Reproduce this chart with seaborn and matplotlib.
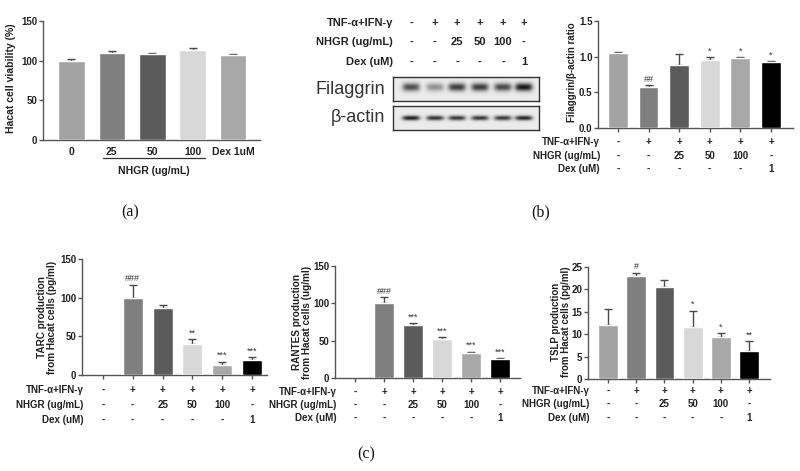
import numpy as np
import seaborn as sns
import matplotlib.pyplot as plt

W, H = 800, 471

# (a) cell viability
via_groups = ['0', '25', '50', '100', 'Dex 1uM']
via_values = [99, 110, 108, 114, 107]
via_err = [3, 2, 2, 2, 2]
via_colors = ['#a3a3a3', '#7f7f7f', '#5b5b5b', '#d8d8d8', '#a8a8a8']

# treatment table shared by (b) and (c)
groups = ['ctrl', 'TI', 'N25', 'N50', 'N100', 'Dex']
row_names = ['TNF-α+IFN-γ', 'NHGR (ug/mL)', 'Dex (uM)']
tnf_row = ['-', '+', '+', '+', '+', '+']
nhgr_row = ['-', '-', '25', '50', '100', '-']
dex_row = ['-', '-', '-', '-', '-', '1']
bar_colors = ['#a3a3a3', '#7f7f7f', '#5b5b5b', '#d8d8d8', '#a8a8a8', '#000000']

# (b) western blot band strength + ratio
fil_band = [0.70, 0.40, 0.78, 0.78, 0.72, 0.95]
actin_band = [0.92, 0.82, 0.80, 0.80, 0.80, 0.88]
fil_ratio = [1.05, 0.58, 0.89, 0.95, 0.98, 0.93]
fil_err = [0.01, 0.02, 0.15, 0.04, 0.01, 0.005]
fil_sig = ['', '##', '', '*', '*', '*']

# (c) cytokines
tarc = [0, 100, 86, 40, 13, 20]
tarc_err = [0, 17, 4, 6, 4, 3]
tarc_sig = ['', '###', '', '**', '***', '***']

rantes = [0, 100, 71, 52, 33, 25]
rantes_err = [0, 8, 2, 3, 2, 1.5]
rantes_sig = ['', '###', '***', '***', '***', '***']

tslp = [12.1, 23.0, 20.5, 11.5, 9.4, 6.2]
tslp_err = [3.6, 0.7, 1.5, 3.7, 0.8, 2.2]
tslp_sig = ['', '#', '', '*', '*', '**']

sns.set_style('ticks')
plt.rcParams['font.family'] = ['Liberation Sans', 'DejaVu Sans']
plt.rcParams['font.weight'] = 'bold'
TXT = '#222222'
AX = '#555555'

fig = plt.figure(figsize=(8, 4.71), dpi=100)


def add_ax(l, t, r, b):
    return fig.add_axes([l / W, 1 - b / H, (r - l) / W, (b - t) / H])


def ftext(x, y, s, **kw):
    kw.setdefault('color', TXT)
    fig.text(x / W, 1 - y / H, s, **kw)


def bars(ax, cats, vals, errs, colors, xlim, ymax, yticks, width=0.66, sig=None):
    sns.barplot(x=cats, y=vals, hue=cats, order=cats, hue_order=cats,
                palette=dict(zip(cats, colors)), legend=False, ax=ax,
                width=width, saturation=1, zorder=3)
    idx = [i for i, e in enumerate(errs) if e > 0]
    ax.errorbar(idx, [vals[i] for i in idx],
                yerr=[[0] * len(idx), [errs[i] for i in idx]],
                fmt='none', ecolor='#4a4a4a', elinewidth=1, capsize=3,
                capthick=1, zorder=2)
    if sig:
        for i, s in enumerate(sig):
            if s:
                ax.text(i, vals[i] + errs[i] + ymax * 0.015, s, ha='center',
                        va='bottom', fontsize=6.5, color='#333333',
                        fontweight='normal')
    ax.set_xlim(*xlim)
    ax.set_ylim(0, ymax)
    ax.set_yticks(yticks)
    ax.set_xlabel('')
    ax.set_ylabel('')
    sns.despine(ax=ax)
    for sp in ['left', 'bottom']:
        ax.spines[sp].set_color(AX)
        ax.spines[sp].set_linewidth(1)
    ax.tick_params(axis='both', colors=AX, labelcolor=TXT, labelsize=7,
                   length=3, width=1, pad=1)


def table(ax, ys, fs=7):
    rows = [tnf_row, nhgr_row, dex_row]
    for name, row, y in zip(row_names, rows, ys):
        ax.text(0.01, y, name, transform=ax.transAxes, ha='right',
                va='center', fontsize=fs, color=TXT)
        for i, v in enumerate(row):
            ax.text(i, y, v, transform=ax.get_xaxis_transform(), ha='center',
                    va='center', fontsize=fs, color=TXT)
    ax.set_xticklabels([])


# ---- (a)
ax_a = add_ax(43, 21, 260, 140)
bars(ax_a, via_groups, via_values, via_err, via_colors, (-0.705, 4.67), 150,
     [0, 50, 100, 150])
ax_a.tick_params(axis='x', length=0, labelsize=7.5, pad=5)
ax_a.plot([0.78, 3.3], [-0.151, -0.151], transform=ax_a.get_xaxis_transform(),
          color='#333333', lw=0.9, clip_on=False)
ax_a.text(2.04, -0.26, 'NHGR (ug/mL)', transform=ax_a.get_xaxis_transform(),
          ha='center', va='center', fontsize=7.5, color=TXT)
ftext(11, 78, 'Hacat cell viability (%)', rotation=90, ha='center',
      va='center', fontsize=7.5)

# ---- (b) blot
cols_px = [411, 435, 457, 480, 503, 524]
hdr_rows = [tnf_row, nhgr_row, dex_row]
for name, row, y in zip(row_names, hdr_rows, [23, 42, 62]):
    ftext(393, y, name, ha='right', va='center', fontsize=8)
    for xc, v in zip(cols_px, row):
        ftext(xc, y, v, ha='center', va='center', fontsize=8)


def blot(l, t, r, b, strength, yc, sy):
    ax = add_ax(l, t, r, b)
    xs = np.linspace(0, 1, 300)
    ys = np.linspace(0, 1, 60)[:, None]
    img = np.full((60, 300), 0.08)
    for xc_px, s in zip(cols_px, strength):
        xc = (xc_px - l) / (r - l)
        prof_x = np.exp(-((xs - xc) / 0.06) ** 4)
        prof_y = np.exp(-((ys - yc) / sy) ** 2)
        img += s * 0.88 * prof_x[None, :] * prof_y
    ax.imshow(np.clip(img, 0, 1), cmap='gray_r', vmin=0, vmax=1,
              aspect='auto', extent=(0, 1, 0, 1), origin='upper')
    ax.set_xticks([])
    ax.set_yticks([])
    for sp in ax.spines.values():
        sp.set_color('#333333')
        sp.set_linewidth(1)
    return ax


blot(393, 77, 539, 101, fil_band, 0.42, 0.17)
blot(393, 106, 539, 130, actin_band, 0.5, 0.1)
ftext(385, 89, 'Filaggrin', ha='right', va='center', fontsize=13,
      fontweight='normal', color='#333333')
ftext(385, 118, 'β-actin', ha='right', va='center', fontsize=13,
      fontweight='normal', color='#333333')

# ---- (b) ratio
ax_b = add_ax(598, 21, 793, 128)
bars(ax_b, groups, fil_ratio, fil_err, bar_colors, (-0.65, 5.72), 1.5,
     [0.0, 0.5, 1.0, 1.5], width=0.65, sig=fil_sig)
ax_b.yaxis.set_major_formatter(plt.FormatStrFormatter('%.1f'))
table(ax_b, [-0.131, -0.262, -0.383])
ftext(572, 72, 'Filaggrin/β-actin ratio', rotation=90, ha='center',
      va='center', fontsize=7)

# ---- (c)
ax_c1 = add_ax(82, 259, 267, 375)
bars(ax_c1, groups, tarc, tarc_err, bar_colors, (-0.70, 5.5), 150,
     [0, 50, 100, 150], width=0.67, sig=tarc_sig)
table(ax_c1, [-0.129, -0.259, -0.388])
ftext(47, 317, 'TARC production\nfrom Hacat cells (pg/ml)', rotation=90,
      ha='center', va='center', fontsize=7.2, linespacing=1.05)

ax_c2 = add_ax(335, 266, 520, 378)
bars(ax_c2, groups, rantes, rantes_err, bar_colors, (-0.69, 5.69), 150,
     [0, 50, 100, 150], width=0.67, sig=rantes_sig)
table(ax_c2, [-0.125, -0.241, -0.357])
ftext(302, 322, 'RANTES production\nfrom Hacat cells (ug/ml)', rotation=90,
      ha='center', va='center', fontsize=7.2, linespacing=1.05)

ax_c3 = add_ax(588, 267, 770, 379)
bars(ax_c3, groups, tslp, tslp_err, bar_colors, (-0.71, 5.74), 25,
     [0, 5, 10, 15, 20, 25], width=0.7, sig=tslp_sig)
table(ax_c3, [-0.107, -0.223, -0.348])
ftext(561, 322, 'TSLP production\nfrom Hacat cells (pg/ml)', rotation=90,
      ha='center', va='center', fontsize=7, linespacing=1.05)

# panel letters
for lbl, x, y in [('(a)', 130, 212), ('(b)', 541, 212), ('(c)', 366, 454)]:
    fig.text(x / W, 1 - y / H, lbl, family='Liberation Serif',
             fontweight='normal', fontsize=11.5, ha='center', va='center',
             color='#111111')

fig.savefig('out.png', dpi=100)
